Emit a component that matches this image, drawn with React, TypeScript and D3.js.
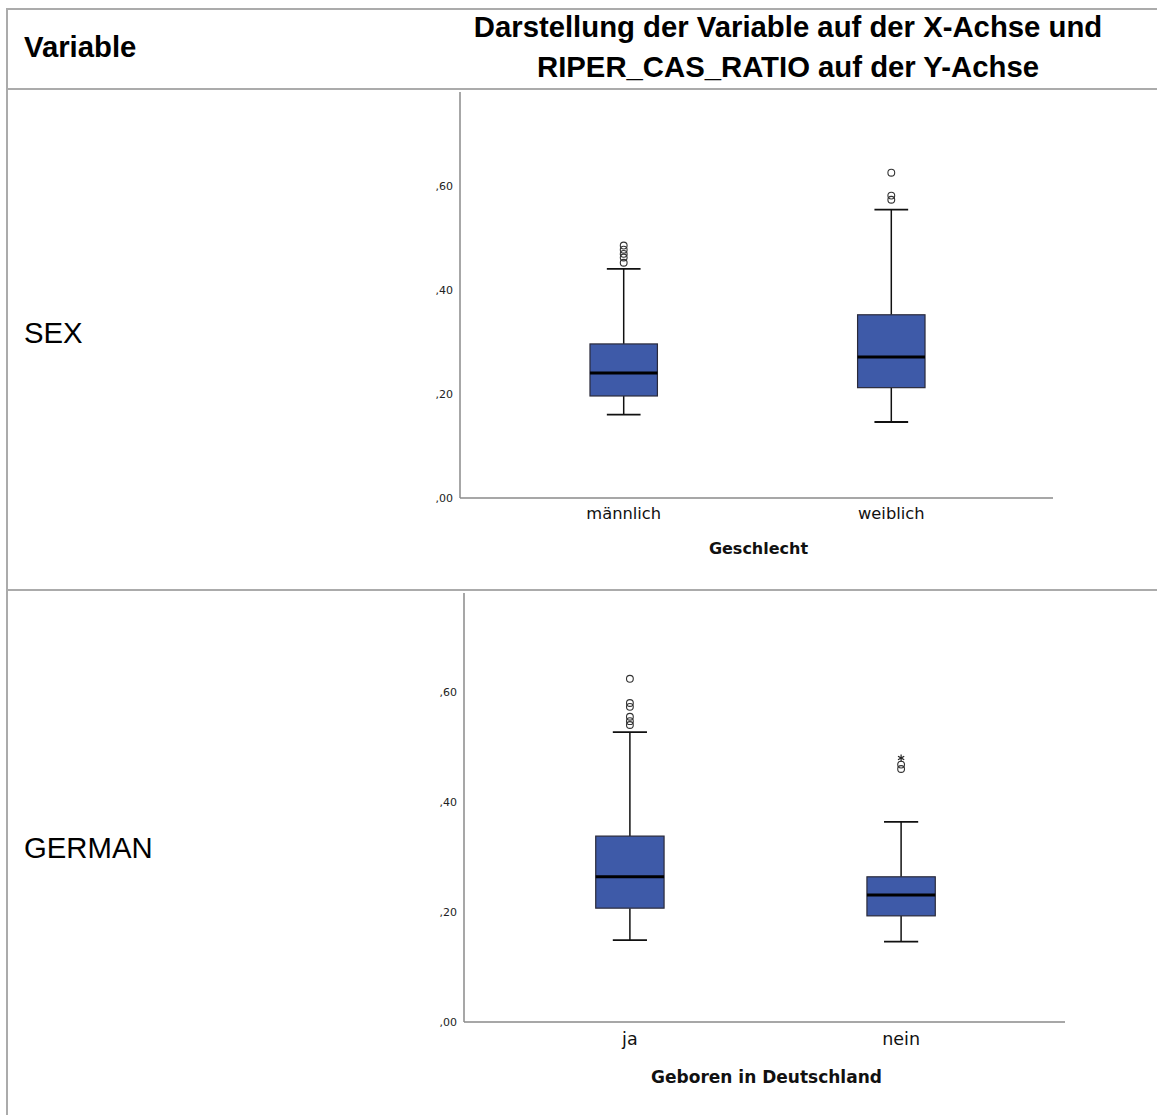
import React from "react";
import * as d3 from "d3";

// ---- Data ----
const sexCategories = ["männlich", "weiblich"];
const sexLow = [0.16, 0.146];
const sexQ1 = [0.196, 0.212];
const sexMedian = [0.24, 0.271];
const sexQ3 = [0.296, 0.352];
const sexHigh = [0.44, 0.554];
const sexOutliers = [
  [0.452, 0.462, 0.469, 0.477, 0.485],
  [0.573, 0.581, 0.625],
];
const sexExtremes: number[][] = [[], []];

const germanCategories = ["ja", "nein"];
const germanLow = [0.149, 0.146];
const germanQ1 = [0.207, 0.193];
const germanMedian = [0.264, 0.231];
const germanQ3 = [0.338, 0.264];
const germanHigh = [0.527, 0.364];
const germanOutliers = [
  [0.54, 0.547, 0.555, 0.573, 0.58, 0.624],
  [0.46, 0.468],
];
const germanExtremes = [[], [0.48]];

const yTickValues = [0, 0.2, 0.4, 0.6];
const yTickLabels = [",00", ",20", ",40", ",60"];

const headerVariable = "Variable";
const headerLine1 = "Darstellung der Variable auf der X-Achse und";
const headerLine2 = "RIPER_CAS_RATIO auf der Y-Achse";
const rowLabels = ["SEX", "GERMAN"];
const axisTitles = ["Geschlecht", "Geboren in Deutschland"];

// ---- Styles ----
const W = 1157;
const H = 1115;
const gridColor = "#ababab";
const boxFill = "#3e5aa8";
const chartFont = "'DejaVu Sans', Verdana, sans-serif";
const tableFont = "'Liberation Sans', Arial, sans-serif";
const tableSize = 29.3;

type PanelProps = {
  categories: string[];
  low: number[];
  q1: number[];
  median: number[];
  q3: number[];
  high: number[];
  outliers: number[][];
  extremes: number[][];
  x0: number;
  x1: number;
  yTop: number;
  yBottom: number;
  title: string;
  labelOffset: number;
  titleOffset: number;
  labelSize: number;
  titleSize: number;
};

function Star({ cx, cy, r }: { cx: number; cy: number; r: number }) {
  const lines = [0, 60, 120].map((a) => {
    const rad = (a * Math.PI) / 180;
    return (
      <line
        key={a}
        x1={cx - r * Math.sin(rad)}
        y1={cy - r * Math.cos(rad)}
        x2={cx + r * Math.sin(rad)}
        y2={cy + r * Math.cos(rad)}
        stroke="#222"
        strokeWidth={1.2}
      />
    );
  });
  return <g>{lines}</g>;
}

function BoxPanel(p: PanelProps) {
  const y = d3.scaleLinear().domain([0, 0.78]).range([p.yBottom, p.yTop]);
  const x = d3.scalePoint<string>().domain(p.categories).range([p.x0, p.x1]).padding(0.608);
  const step = x.step();
  const boxW = step * 0.252;
  const capW = boxW / 2;
  return (
    <g>
      {/* axes */}
      <line x1={p.x0} y1={p.yTop} x2={p.x0} y2={p.yBottom} stroke="#8a8a8a" strokeWidth={1.5} />
      <line x1={p.x0} y1={p.yBottom} x2={p.x1} y2={p.yBottom} stroke="#8a8a8a" strokeWidth={1.5} />
      {yTickValues.map((v, i) => (
        <text
          key={v}
          x={p.x0 - 7}
          y={y(v) + 4}
          textAnchor="end"
          fontFamily={chartFont}
          fontSize={11}
          fill="#222"
        >
          {yTickLabels[i]}
        </text>
      ))}
      {p.categories.map((c, i) => {
        const cx = (x(c) as number) + 1;
        return (
          <g key={c}>
            {/* whiskers */}
            <line x1={cx} x2={cx} y1={y(p.high[i])} y2={y(p.q3[i])} stroke="#111" strokeWidth={1.5} />
            <line x1={cx} x2={cx} y1={y(p.q1[i])} y2={y(p.low[i])} stroke="#111" strokeWidth={1.5} />
            <line x1={cx - capW / 2} x2={cx + capW / 2} y1={y(p.high[i])} y2={y(p.high[i])} stroke="#111" strokeWidth={1.8} />
            <line x1={cx - capW / 2} x2={cx + capW / 2} y1={y(p.low[i])} y2={y(p.low[i])} stroke="#111" strokeWidth={1.8} />
            {/* box */}
            <rect
              x={cx - boxW / 2}
              y={y(p.q3[i])}
              width={boxW}
              height={y(p.q1[i]) - y(p.q3[i])}
              fill={boxFill}
              stroke="#2a2a3a"
              strokeWidth={1.2}
            />
            <line x1={cx - boxW / 2} x2={cx + boxW / 2} y1={y(p.median[i])} y2={y(p.median[i])} stroke="#000" strokeWidth={3} />
            {/* outliers */}
            {p.outliers[i].map((v, j) => (
              <circle key={j} cx={cx} cy={y(v)} r={3.4} fill="none" stroke="#333" strokeWidth={1.1} />
            ))}
            {p.extremes[i].map((v, j) => (
              <Star key={"e" + j} cx={cx} cy={y(v)} r={3.6} />
            ))}
            <text
              x={cx}
              y={p.yBottom + p.labelOffset}
              textAnchor="middle"
              fontFamily={chartFont}
              fontSize={p.labelSize}
              fill="#111"
            >
              {c}
            </text>
          </g>
        );
      })}
      <text
        x={(p.x0 + p.x1) / 2 + 2}
        y={p.yBottom + p.titleOffset}
        textAnchor="middle"
        fontFamily={chartFont}
        fontSize={p.titleSize}
        fontWeight="bold"
        fill="#111"
      >
        {p.title}
      </text>
    </g>
  );
}

export default function App() {
  return (
    <svg
      width={W}
      height={H}
      style={{ position: "absolute", left: 0, top: 0, background: "#fff" }}
    >
      <rect x={0} y={0} width={W} height={H} fill="#fff" />
      {/* table grid */}
      <line x1={6} y1={9} x2={W} y2={9} stroke={gridColor} strokeWidth={2} />
      <line x1={7} y1={8} x2={7} y2={H} stroke={gridColor} strokeWidth={2} />
      <line x1={6} y1={89} x2={W} y2={89} stroke={gridColor} strokeWidth={2} />
      <line x1={6} y1={590} x2={W} y2={590} stroke={gridColor} strokeWidth={2} />

      {/* header */}
      <text x={24} y={57} fontFamily={tableFont} fontSize={tableSize} fontWeight="bold" fill="#000">
        {headerVariable}
      </text>
      <text x={788} y={37} textAnchor="middle" fontFamily={tableFont} fontSize={tableSize} fontWeight="bold" fill="#000">
        {headerLine1}
      </text>
      <text x={788} y={77} textAnchor="middle" fontFamily={tableFont} fontSize={tableSize} fontWeight="bold" fill="#000">
        {headerLine2}
      </text>

      {/* row labels */}
      <text x={24} y={343} fontFamily={tableFont} fontSize={tableSize} fill="#000">
        {rowLabels[0]}
      </text>
      <text x={24} y={858} fontFamily={tableFont} fontSize={tableSize} fill="#000">
        {rowLabels[1]}
      </text>

      <BoxPanel
        categories={sexCategories}
        low={sexLow}
        q1={sexQ1}
        median={sexMedian}
        q3={sexQ3}
        high={sexHigh}
        outliers={sexOutliers}
        extremes={sexExtremes}
        x0={460}
        x1={1053}
        yTop={92}
        yBottom={498}
        title={axisTitles[0]}
        labelOffset={21}
        titleOffset={56}
        labelSize={16.3}
        titleSize={16}
      />
      <BoxPanel
        categories={germanCategories}
        low={germanLow}
        q1={germanQ1}
        median={germanMedian}
        q3={germanQ3}
        high={germanHigh}
        outliers={germanOutliers}
        extremes={germanExtremes}
        x0={464}
        x1={1065}
        yTop={593}
        yBottom={1022}
        title={axisTitles[1]}
        labelOffset={23}
        titleOffset={61}
        labelSize={17.5}
        titleSize={17}
      />
    </svg>
  );
}
